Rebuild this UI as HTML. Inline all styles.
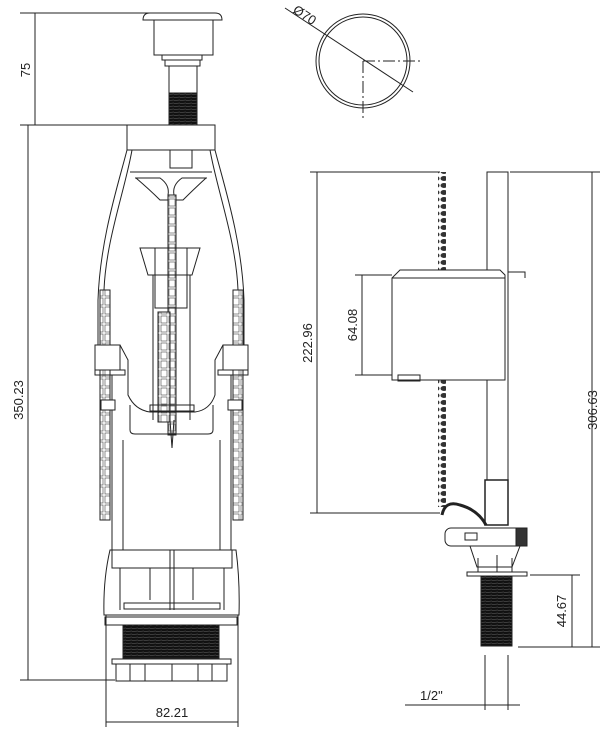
<!DOCTYPE html>
<html><head><meta charset="utf-8"><style>
html,body{margin:0;padding:0;background:#fff;}
svg{display:block;}
text{font-family:"Liberation Sans",sans-serif;font-size:13px;fill:#222;stroke:none;}
</style></head><body>
<svg width="613" height="731" viewBox="0 0 613 731" xmlns="http://www.w3.org/2000/svg" fill="none" stroke="#222" stroke-width="1">
<defs>
<pattern id="thr" width="6" height="3" patternUnits="userSpaceOnUse"><rect width="6" height="3" fill="#111" stroke="none"/><line x1="0" y1="1.5" x2="6" y2="1" stroke="#666" stroke-width="0.6"/></pattern>
<pattern id="lad" width="8" height="9" patternUnits="userSpaceOnUse"><rect width="8" height="9" fill="#fff" stroke="none"/><rect x="1" y="1" width="6" height="7" stroke="#444" stroke-width="0.6" fill="#fff"/></pattern>
<pattern id="chn" width="8" height="7" patternUnits="userSpaceOnUse"><ellipse cx="4" cy="3.5" rx="3.5" ry="2.5" fill="#333" stroke="none"/></pattern>
</defs>

<!-- left dimensions -->
<line x1="20" y1="13" x2="150" y2="13"/>
<line x1="20" y1="125" x2="128" y2="125"/>
<line x1="35" y1="13" x2="35" y2="125"/>
<text transform="translate(30,70) rotate(-90)" text-anchor="middle">75</text>
<line x1="28" y1="125" x2="28" y2="680"/>
<line x1="20" y1="680" x2="115" y2="680"/>
<text transform="translate(23,400) rotate(-90)" text-anchor="middle">350.23</text>
<line x1="106" y1="615" x2="106" y2="727"/>
<line x1="238" y1="615" x2="238" y2="727"/>
<line x1="106" y1="722" x2="238" y2="722"/>
<text x="172" y="717" text-anchor="middle">82.21</text>

<!-- button -->
<path d="M143 20 Q143 13 150 13 L215 13 Q222 13 222 20 Z"/>
<rect x="154" y="20" width="59" height="35"/>
<rect x="162" y="55" width="40" height="5"/>
<rect x="165" y="60" width="35" height="6"/>
<rect x="169" y="66" width="28" height="27"/>
<rect x="169" y="93" width="28" height="32" fill="url(#thr)"/>

<!-- flush valve body -->
<rect x="127" y="125" width="88" height="25"/>
<path d="M127 150 C118 185 100 240 98 300 L98 345"/>
<path d="M215 150 C224 185 242 240 244 300 L244 345"/>
<path d="M132 150 C125 190 106 240 104 290 L104 345"/>
<path d="M210 150 C217 190 236 240 238 290 L238 345"/>
<rect x="170" y="150" width="22" height="18"/>
<path d="M130 172 L212 172 M135 178 L160 178 Q170 185 168 195 M207 178 L182 178 Q172 185 174 195"/>
<path d="M136 178 Q150 190 160 200 L183 200 Q193 190 206 178"/>
<rect x="168" y="195" width="8" height="240" fill="url(#lad)"/>
<path d="M140 248 L200 248 L192 275 L148 275 Z"/>
<rect x="155" y="248" width="32" height="60"/>
<rect x="158" y="312" width="12" height="110" fill="url(#lad)"/>
<line x1="153" y1="275" x2="153" y2="420"/><line x1="190" y1="275" x2="190" y2="420"/>
<rect x="150" y="405" width="44" height="6"/>
<path d="M170 420 L172 448 L174 420"/>
<!-- side rails -->
<rect x="100" y="290" width="10" height="230" fill="url(#lad)"/>
<rect x="233" y="290" width="10" height="230" fill="url(#lad)"/>
<rect x="95" y="345" width="25" height="25" fill="#fff"/><rect x="223" y="345" width="25" height="25" fill="#fff"/>
<rect x="95" y="370" width="30" height="5"/><rect x="218" y="370" width="30" height="5"/>
<path d="M120 345 L128 360 L128 395 Q135 410 150 412 L195 412 Q210 410 215 395 L215 360 L223 345"/>
<path d="M130 405 L130 430 Q130 434 135 434 L208 434 Q213 434 213 430 L213 405"/>
<line x1="112" y1="375" x2="112" y2="550"/><line x1="231" y1="375" x2="231" y2="550"/>
<line x1="123" y1="440" x2="123" y2="550"/><line x1="220" y1="440" x2="220" y2="550"/>
<rect x="101" y="400" width="14" height="10" fill="#fff"/><rect x="228" y="400" width="14" height="10" fill="#fff"/>
<!-- base -->
<path d="M110 550 L236 550 Q240 580 239 615 L104 615 Q103 580 110 550 Z"/>
<rect x="112" y="550" width="120" height="18"/>
<line x1="170" y1="550" x2="170" y2="610"/><line x1="174" y1="550" x2="174" y2="610"/>
<line x1="120" y1="568" x2="120" y2="610"/><line x1="150" y1="568" x2="150" y2="600"/><line x1="193" y1="568" x2="193" y2="600"/><line x1="224" y1="568" x2="224" y2="610"/>
<rect x="124" y="603" width="96" height="6"/>
<rect x="105" y="617" width="132" height="8"/>
<rect x="123" y="625" width="96" height="33" fill="url(#thr)"/>
<rect x="112" y="659" width="119" height="5"/>
<rect x="116" y="664" width="111" height="17"/>
<line x1="130" y1="664" x2="130" y2="681"/><line x1="145" y1="664" x2="145" y2="681"/><line x1="172" y1="664" x2="172" y2="681"/><line x1="198" y1="664" x2="198" y2="681"/><line x1="212" y1="664" x2="212" y2="681"/>

<!-- circle -->
<circle cx="363" cy="61" r="47"/>
<circle cx="363" cy="61" r="44"/>
<line x1="285" y1="8" x2="413" y2="92"/>
<line x1="363" y1="61" x2="420" y2="61" stroke-dasharray="12,3,2,3"/>
<line x1="363" y1="61" x2="363" y2="118" stroke-dasharray="12,3,2,3"/>
<text transform="translate(292,12) rotate(33)" font-size="11">Ø70</text>

<!-- fill valve dims -->
<line x1="310" y1="172" x2="440" y2="172"/>
<line x1="310" y1="513" x2="440" y2="513"/>
<line x1="317" y1="172" x2="317" y2="513"/>
<text transform="translate(312,343) rotate(-90)" text-anchor="middle">222.96</text>
<line x1="355" y1="275" x2="392" y2="275"/>
<line x1="355" y1="375" x2="392" y2="375"/>
<line x1="362" y1="275" x2="362" y2="375"/>
<text transform="translate(357,325) rotate(-90)" text-anchor="middle">64.08</text>
<line x1="510" y1="172" x2="600" y2="172"/>
<line x1="518" y1="647" x2="600" y2="647"/>
<line x1="592" y1="172" x2="592" y2="647"/>
<text transform="translate(597,410) rotate(-90)" text-anchor="middle">306.63</text>
<line x1="530" y1="575" x2="580" y2="575"/>
<line x1="572" y1="575" x2="572" y2="647"/>
<text transform="translate(566,611) rotate(-90)" text-anchor="middle">44.67</text>
<line x1="485" y1="655" x2="485" y2="710"/><line x1="508" y1="655" x2="508" y2="710"/>
<line x1="405" y1="705" x2="520" y2="705"/>
<text x="420" y="700" font-size="11">1/2"</text>

<!-- fill valve -->
<rect x="438" y="172" width="8" height="335" fill="url(#chn)" stroke="none"/>
<rect x="487" y="172" width="21" height="308"/>
<rect x="485" y="480" width="23" height="45" stroke-width="1.5"/>
<path d="M392 278 L400 270 L500 270 L505 275 L505 380 L392 380 Z" fill="#fff"/>
<line x1="392" y1="278" x2="505" y2="278"/>
<path d="M508 272 L525 272 L525 278"/>
<rect x="398" y="375" width="22" height="6"/>
<line x1="442" y1="270" x2="442" y2="380" stroke="#fff" stroke-width="0"/>
<path d="M442 515 Q445 500 460 505 Q478 510 486 525" stroke-width="3"/>
<rect x="445" y="528" width="82" height="18" rx="6" fill="#fff"/>
<rect x="465" y="533" width="12" height="7"/>
<rect x="516" y="528" width="11" height="18" fill="#333"/>
<path d="M470 546 L520 546 L512 567 L477 567 Z"/>
<rect x="467" y="572" width="60" height="4"/>
<line x1="478" y1="558" x2="478" y2="572"/><line x1="497" y1="555" x2="497" y2="572"/><line x1="512" y1="558" x2="512" y2="572"/>
<rect x="481" y="576" width="31" height="70" fill="url(#thr)"/>
</svg>
</body></html>
